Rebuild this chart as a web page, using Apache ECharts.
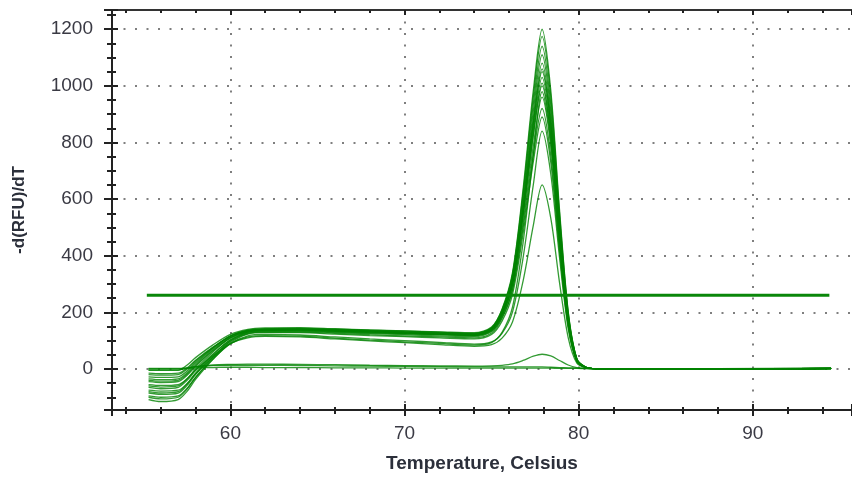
<!DOCTYPE html>
<html>
<head>
<meta charset="utf-8">
<script src="https://cdn.jsdelivr.net/npm/echarts@6/dist/echarts.min.js"></script>
<style>
html,body{margin:0;padding:0;background:#fff;}
#chart{width:852px;height:480px;}
</style>
</head>
<body>
<div id="chart"></div>
<script>
// Temperature nodes (Celsius) shared by every melt curve
const temps = [55.3, 56, 57, 57.5, 58, 59, 60, 61, 62, 64, 66, 68, 70, 72, 74, 75, 75.6, 76.2, 76.8, 77.4, 77.9, 78.4, 78.9, 79.4, 79.9, 80.4, 81, 88, 94.5];

// -d(RFU)/dT values, one array per well
const well01 = [-5,-5,-5,13,40,85,122,140,145,146,142,138,134,130,125,146,211,340,630,985,1200,984,564,204,36,7,1,0,2];
const well02 = [-20,-22,-20,-1,28,76,116,135,140,141,138,134,130,126,122,143,206,333,617,964,1175,964,552,200,35,7,1,0,1];
const well03 = [-28,-30,-28,-8,23,74,117,137,142,143,141,137,134,131,128,148,209,330,604,938,1140,935,536,194,34,7,1,0,2];
const well04 = [-40,-43,-40,-19,13,67,111,133,138,139,135,131,127,123,120,140,199,318,585,912,1110,910,522,189,33,7,1,0,1];
const well05 = [-45,-48,-45,-23,9,64,109,131,136,137,133,129,125,121,118,137,195,310,570,888,1080,886,508,184,32,6,1,0,2];
const well06 = [-60,-64,-60,-36,0,60,110,135,140,141,138,134,130,127,124,143,198,309,559,865,1050,861,494,179,32,6,1,0,1];
const well07 = [-65,-70,-65,-41,-6,53,102,127,132,133,129,125,121,117,114,132,187,297,545,847,1030,845,484,175,31,6,1,0,2];
const well08 = [-80,-85,-80,-54,-15,50,104,131,136,137,134,130,127,123,120,138,190,296,534,824,1000,820,470,170,30,6,1,0,1];
const well09 = [-85,-90,-85,-59,-20,44,98,125,130,130,126,121,117,113,110,127,178,280,510,790,960,787,451,163,29,6,1,0,2];
const well10 = [-100,-106,-100,-72,-30,40,99,129,134,135,131,127,124,121,118,134,182,278,495,760,920,754,432,156,28,6,1,0,1];
const well11 = [-108,-115,-108,-80,-37,34,93,123,128,128,123,118,114,110,106,122,169,263,474,733,890,730,418,151,27,5,1,0,2];
const well12 = [-95,-100,-95,-69,-30,35,89,117,122,120,113,106,100,94,88,96,126,201,389,652,840,689,395,143,25,5,1,0,1];
const well13 = [-55,-58,-55,-35,-4,47,90,110,115,113,106,99,93,86,80,86,109,166,308,508,650,533,306,111,20,4,1,0,2];
const well14 = [-75,-78,-75,-52,-17,41,89,113,118,116,109,102,96,90,84,93,129,218,442,756,980,804,461,167,29,6,1,0,1];
const well15 = [-15,-17,-15,3,31,77,115,133,138,139,136,132,128,124,121,139,192,299,539,832,1010,828,475,172,30,6,1,0,2];
const well16 = [-35,-38,-35,-14,18,71,115,136,141,142,139,135,131,128,126,145,201,313,565,873,1060,869,498,180,32,6,1,0,1];
const well17 = [-3,-3,-3,2,8,14,16,17,17,16,15,13,12,11,10,11,13,18,30,45,52,46,30,14,5,2,1,1,3];
const well18 = [0,0,0,3,8,12,13,13,13,12,11,10,9,8,7,7,7,7,7,7,7,6,5,4,3,2,1,1,2];
const well19 = [2,2,2,3,4,5,6,6,5,5,4,4,3,3,3,3,3,3,3,3,3,3,2,2,2,1,1,1,2];

// Threshold line
const thresholdValue = 260;
const thresholdRange = [55.2, 94.4];

// Axis settings
const xMin = 53.2, xMax = 95.7, xStep = 10;
const yMin = -145, yMax = 1268, yStep = 200;

const wells = [well01, well02, well03, well04, well05, well06, well07, well08, well09, well10,
               well11, well12, well13, well14, well15, well16, well17, well18, well19];

const chart = echarts.init(document.getElementById('chart'), null, {renderer: 'canvas'});

const gridDots = {show: true, lineStyle: {color: '#555', type: [2, 9.5], width: 1.5}, showMinLine: false, showMaxLine: false};
const fontFam = '"Liberation Sans", Arial, sans-serif';

const series = wells.map((vals, k) => ({
  type: 'line',
  name: 'well' + (k + 1),
  xAxisIndex: 0, yAxisIndex: 0,
  data: temps.map((t, i) => [t, vals[i]]),
  showSymbol: false,
  smooth: 0.3,
  lineStyle: {color: 'rgba(0,130,0,0.8)', width: 1.3},
  z: 3,
  silent: true
}));
series.push({
  type: 'line',
  name: 'threshold',
  xAxisIndex: 0, yAxisIndex: 0,
  data: thresholdRange.map(t => [t, thresholdValue]),
  showSymbol: false,
  lineStyle: {color: '#0a870a', width: 3},
  z: 4,
  silent: true
});

const baseX = {
  type: 'value', min: xMin, max: xMax, minInterval: xStep, maxInterval: xStep, gridIndex: 0
};
const baseY = {
  type: 'value', min: yMin, max: yMax, minInterval: yStep, maxInterval: yStep, gridIndex: 0
};
const plain = v => String(Math.round(v));

chart.setOption({
  animation: false,
  backgroundColor: '#fff',
  grid: {left: 112, top: 10, right: 0, bottom: 70, containLabel: false},
  xAxis: [
    Object.assign({}, baseX, {
      position: 'bottom',
      name: 'Temperature, Celsius',
      nameLocation: 'middle',
      nameGap: 44,
      nameTextStyle: {fontFamily: fontFam, fontWeight: 'bold', fontSize: 19, color: '#2b2f3a'},
      axisLine: {show: true, onZero: false, lineStyle: {color: '#222', width: 2}},
      axisTick: {show: true, inside: false, length: 6, lineStyle: {color: '#222', width: 2}},
      minorTick: {show: true, splitNumber: 5, length: 4, lineStyle: {color: '#222', width: 2}},
      axisLabel: {show: true, margin: 14, fontFamily: fontFam, fontSize: 19, color: '#3a3a44', showMinLabel: false, showMaxLabel: false, formatter: plain},
      splitLine: gridDots
    }),
    Object.assign({}, baseX, {
      position: 'bottom',
      axisLine: {show: false, onZero: false},
      axisTick: {show: true, inside: true, length: 6, lineStyle: {color: '#222', width: 2}},
      minorTick: {show: true, splitNumber: 5, length: 3, lineStyle: {color: '#222', width: 2}},
      axisLabel: {show: false},
      splitLine: {show: false}
    }),
    Object.assign({}, baseX, {
      position: 'top',
      axisLine: {show: true, onZero: false, lineStyle: {color: '#333', width: 2}},
      axisTick: {show: true, inside: true, length: 5, lineStyle: {color: '#222', width: 2}},
      minorTick: {show: true, splitNumber: 5, length: 3, lineStyle: {color: '#222', width: 2}},
      axisLabel: {show: false},
      splitLine: {show: false}
    })
  ],
  yAxis: [
    Object.assign({}, baseY, {
      position: 'left',
      name: '-d(RFU)/dT',
      nameLocation: 'middle',
      nameGap: 84,
      nameTextStyle: {fontFamily: fontFam, fontWeight: 'bold', fontSize: 17, color: '#2b2f3a'},
      axisLine: {show: true, onZero: false, lineStyle: {color: '#222', width: 2}},
      axisTick: {show: true, inside: false, length: 8, lineStyle: {color: '#222', width: 2}},
      minorTick: {show: true, splitNumber: 4, length: 5, lineStyle: {color: '#222', width: 2}},
      axisLabel: {show: true, margin: 19, fontFamily: fontFam, fontSize: 19, color: '#3a3a44', showMinLabel: false, showMaxLabel: false, formatter: plain},
      splitLine: gridDots
    }),
    Object.assign({}, baseY, {
      position: 'left',
      axisLine: {show: false, onZero: false},
      axisTick: {show: true, inside: true, length: 6, lineStyle: {color: '#222', width: 2}},
      minorTick: {show: true, splitNumber: 4, length: 4, lineStyle: {color: '#222', width: 2}},
      axisLabel: {show: false},
      splitLine: {show: false}
    })
  ],
  series: series
});
</script>
</body>
</html>
